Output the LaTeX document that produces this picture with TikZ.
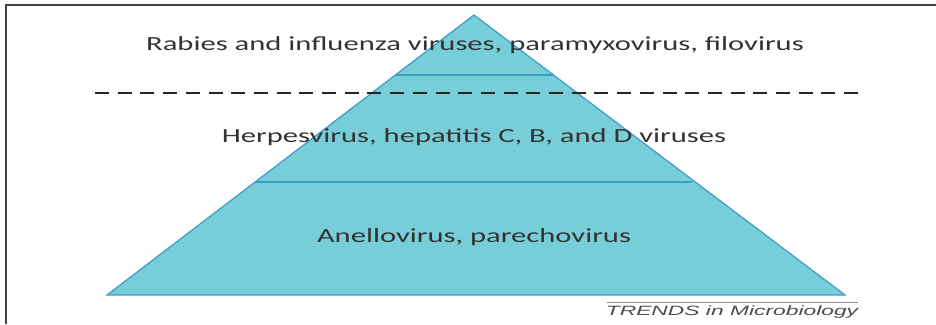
\documentclass[tikz,border=0pt]{standalone}
\usepackage{fontspec}
\usepackage{graphicx}
\setmainfont{Carlito}
\newfontfamily\trendsfont{Liberation Sans}
\definecolor{pyrfill}{HTML}{78CED8}
\definecolor{pyredge}{HTML}{3A9CC8}
\definecolor{txtgray}{HTML}{333333}
\newcommand{\wide}[1]{\scalebox{1.53}[1]{#1}}
\begin{document}
\begin{tikzpicture}[x=1pt,y=-1pt,
  layer/.style={font=\fontsize{20}{24}\selectfont, text=txtgray, inner sep=0pt, anchor=center},
  divider/.style={draw=pyredge, line width=1.2pt},
  frame/.style={draw=black!75, line width=1.3pt}]
\useasboundingbox (0,0) rectangle (936,324);
\fill[white] (0,0) rectangle (936,324);
% frame
\coordinate (fbl) at (6,324);
\coordinate (ftl) at (6,5);
\coordinate (ftr) at (936,5);
\draw[frame] (fbl) -- (ftl) -- (ftr);
% pyramid
\coordinate (apex) at (474,15);
\coordinate (bl) at (107,295);
\coordinate (br) at (845,295);
\filldraw[fill=pyrfill, draw=pyredge, line width=1.2pt, line join=miter] (apex) -- (br) -- (bl) -- cycle;
\coordinate (d1l) at (395,75);
\coordinate (d1r) at (553,75);
\coordinate (d2l) at (255,182);
\coordinate (d2r) at (692,182);
\draw[divider] (d1l) -- (d1r);
\draw[divider] (d2l) -- (d2r);
% dashed line
\coordinate (dl) at (95,93);
\coordinate (dr) at (862,93);
\draw[black!85, line width=2.8pt, dash pattern=on 14pt off 8.7pt] (dl) -- (dr);
% texts
\node[layer] (t1) at (475,45) {\wide{Rabies and influenza viruses, paramyxovirus, filovirus}};
\node[layer] (t2) at (474,137) {\wide{Herpesvirus, hepatitis C, B, and D viruses}};
\node[layer] (t3) at (474,237) {\wide{Anellovirus, parechovirus}};
% trends label
\coordinate (tl) at (607,302);
\coordinate (tr) at (858,302);
\draw[black!45, line width=1pt] (tl) -- (tr);
\node[font=\trendsfont\itshape\fontsize{13.5}{15}\selectfont, text=black!70, inner sep=0pt] (trends) at (732,312) {\scalebox{1.69}[1]{TRENDS in Microbiology}};
\end{tikzpicture}
\end{document}
